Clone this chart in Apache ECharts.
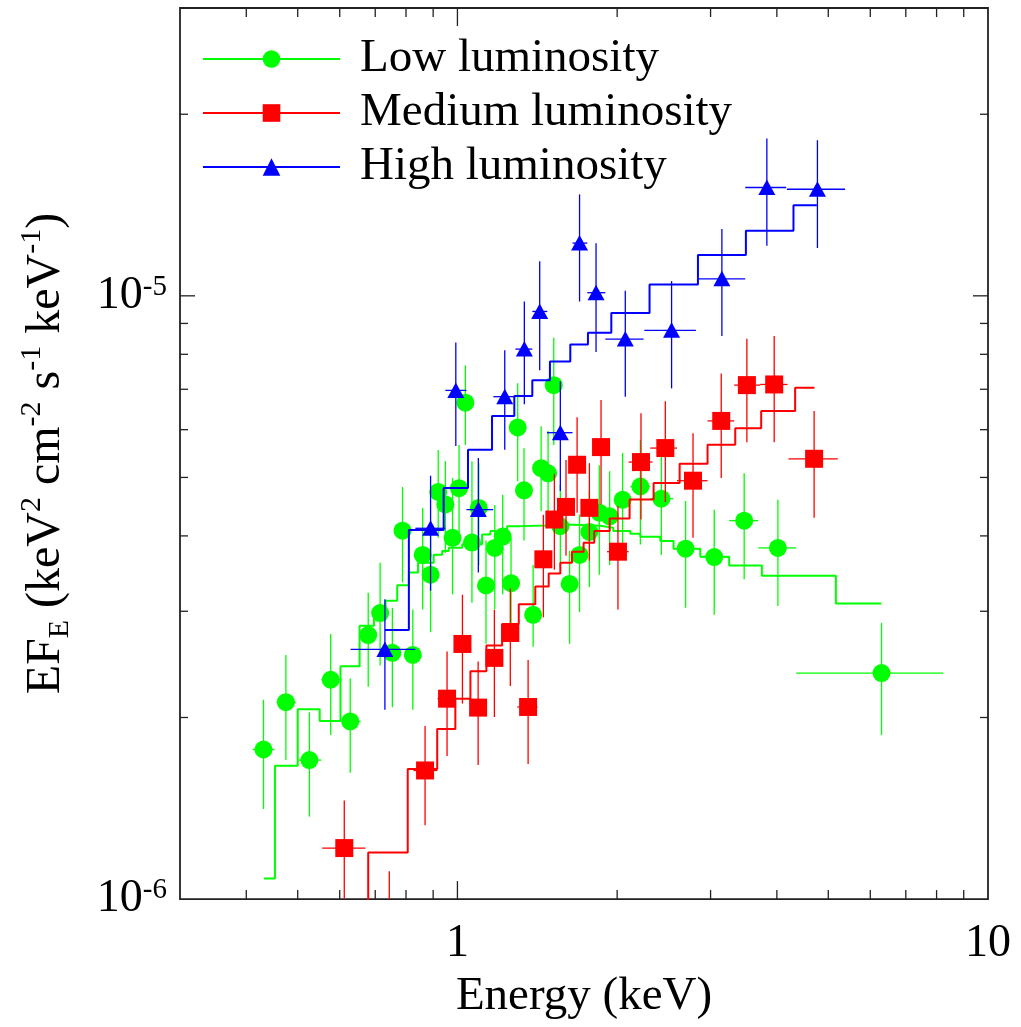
<!DOCTYPE html>
<html>
<head>
<meta charset="utf-8">
<script src="https://cdn.jsdelivr.net/npm/echarts@6/dist/echarts.min.js"></script>
<style>html,body{margin:0;padding:0;background:#fff}#chart{width:1021px;height:1027px}</style>
</head>
<body>
<div id="chart"></div>
<script>
// ---------------- DATA ----------------
// Low luminosity (green) data points
const lowE   = [0.431,0.475,0.526,0.577,0.628,0.679,0.715,0.754,0.788,0.824,0.860,0.890,0.920,0.949,0.979,1.007,1.035,1.065,1.097,1.132,1.176,1.217,1.262,1.299,1.335,1.389,1.438,1.482,1.519,1.563,1.627,1.699,1.773,1.851,1.936,2.048,2.212,2.423,2.692,3.048,3.471,4.018,6.30];
const lowF   = [1.77e-6,2.12e-6,1.70e-6,2.31e-6,1.97e-6,2.74e-6,2.98e-6,2.56e-6,4.08e-6,2.54e-6,3.72e-6,3.45e-6,4.73e-6,4.51e-6,3.97e-6,4.80e-6,6.65e-6,3.90e-6,4.45e-6,3.31e-6,3.82e-6,3.99e-6,3.34e-6,6.05e-6,4.76e-6,2.96e-6,5.18e-6,5.08e-6,7.11e-6,4.15e-6,3.33e-6,3.72e-6,4.06e-6,4.37e-6,4.31e-6,4.59e-6,4.83e-6,4.61e-6,3.81e-6,3.69e-6,4.24e-6,3.82e-6,2.37e-6];
const lowFlo = [1.41e-6,1.70e-6,1.37e-6,1.87e-6,1.62e-6,2.25e-6,2.44e-6,2.08e-6,3.35e-6,2.06e-6,3.02e-6,2.77e-6,3.97e-6,3.75e-6,3.20e-6,3.97e-6,5.66e-6,3.10e-6,3.58e-6,2.65e-6,3.02e-6,3.20e-6,2.79e-6,4.93e-6,3.93e-6,2.62e-6,4.40e-6,4.29e-6,5.66e-6,3.54e-6,2.65e-6,2.99e-6,3.29e-6,3.45e-6,3.58e-6,3.68e-6,3.87e-6,3.72e-6,3.04e-6,2.96e-6,3.39e-6,3.06e-6,1.87e-6];
const lowFhi = [2.14e-6,2.54e-6,2.04e-6,2.75e-6,2.32e-6,3.22e-6,3.61e-6,3.04e-6,4.82e-6,3.02e-6,4.45e-6,4.20e-6,5.55e-6,5.32e-6,4.99e-6,5.66e-6,7.67e-6,5.32e-6,5.28e-6,3.93e-6,4.50e-6,4.68e-6,3.97e-6,7.16e-6,5.59e-6,3.58e-6,6.08e-6,5.97e-6,8.52e-6,4.86e-6,3.78e-6,4.34e-6,4.75e-6,5.24e-6,5.12e-6,5.49e-6,5.77e-6,5.49e-6,4.57e-6,4.42e-6,5.08e-6,4.59e-6,2.87e-6];
const lowElo = [0.411,0.456,0.499,0.554,0.607,0.657,0.701,0.735,0.768,0.798,0.845,0.874,0.905,0.933,0.962,0.991,1.022,1.049,1.081,1.115,1.154,1.195,1.237,1.280,1.314,1.360,1.415,1.458,1.503,1.536,1.597,1.661,1.734,1.811,1.892,1.984,2.118,2.309,2.552,2.869,3.252,3.689,4.349];
const lowEhi = [0.452,0.496,0.554,0.605,0.657,0.701,0.735,0.774,0.809,0.852,0.878,0.905,0.933,0.962,0.991,1.022,1.049,1.081,1.115,1.154,1.195,1.237,1.280,1.314,1.360,1.415,1.458,1.503,1.536,1.597,1.661,1.734,1.811,1.892,1.984,2.118,2.309,2.552,2.869,3.252,3.689,4.349,8.229];
// Low luminosity model (histogram: bin starts + final edge)
const lowModelE = [0.432,0.453,0.500,0.550,0.602,0.654,0.696,0.732,0.770,0.810,0.843,0.902,0.936,0.963,1.021,1.113,1.154,1.205,1.241,1.314,1.471,1.605,1.859,1.967,2.118,2.212,2.412,2.555,2.869,3.252,3.748,5.167,6.297];
const lowModelF = [1.082e-6,1.664e-6,2.064e-6,1.974e-6,2.433e-6,2.839e-6,2.949e-6,3.123e-6,3.313e-6,3.477e-6,3.612e-6,3.724e-6,3.776e-6,3.824e-6,3.873e-6,4.022e-6,4.074e-6,4.099e-6,4.152e-6,4.162e-6,4.178e-6,4.157e-6,4.126e-6,4.074e-6,4.033e-6,3.988e-6,3.923e-6,3.810e-6,3.695e-6,3.574e-6,3.434e-6,3.090e-6,3.090e-6];

// Medium luminosity (red) data points
const medE   = [0.612,0.744,0.869,0.956,1.022,1.094,1.174,1.258,1.359,1.452,1.523,1.602,1.681,1.773,1.865,2.007,2.218,2.465,2.780,3.142,3.512,3.954,4.702];
const medF   = [1.215e-6,0.821e-6,1.634e-6,2.149e-6,2.648e-6,2.077e-6,2.511e-6,2.761e-6,2.082e-6,3.658e-6,4.258e-6,4.468e-6,5.248e-6,4.452e-6,5.614e-6,3.766e-6,5.302e-6,5.593e-6,4.938e-6,6.204e-6,7.112e-6,7.130e-6,5.369e-6];
const medFlo = [0.902e-6,0.600e-6,1.325e-6,1.726e-6,2.109e-6,1.668e-6,2.004e-6,2.255e-6,1.675e-6,2.931e-6,3.516e-6,3.709e-6,4.368e-6,3.640e-6,4.508e-6,3.021e-6,4.258e-6,4.553e-6,3.972e-6,4.989e-6,5.721e-6,5.721e-6,4.285e-6];
const medFhi = [1.457e-6,1.112e-6,1.937e-6,2.573e-6,3.195e-6,2.477e-6,3.017e-6,3.272e-6,2.492e-6,4.335e-6,5.065e-6,5.342e-6,6.291e-6,5.280e-6,6.718e-6,4.485e-6,6.387e-6,6.685e-6,5.921e-6,7.436e-6,8.492e-6,8.581e-6,6.443e-6];
const medElo = [0.556,0.744,0.826,0.917,0.991,1.058,1.134,1.215,1.297,1.402,1.490,1.563,1.640,1.727,1.819,1.914,2.102,2.309,2.593,2.961,3.324,3.721,4.207];
const medEhi = [0.671,0.744,0.917,0.991,1.058,1.134,1.215,1.303,1.415,1.490,1.563,1.640,1.727,1.819,1.917,2.102,2.332,2.593,2.961,3.324,3.721,4.188,5.212];
// Medium luminosity model
const medModelE = [0.615,0.679,0.806,0.916,0.991,1.058,1.134,1.214,1.305,1.402,1.486,1.563,1.644,1.729,1.811,1.936,2.111,2.343,2.623,2.961,3.339,3.737,4.330,4.709];
const medModelF = [0.80e-6,1.195e-6,1.643e-6,1.915e-6,2.149e-6,2.387e-6,2.632e-6,2.857e-6,3.082e-6,3.297e-6,3.464e-6,3.612e-6,3.766e-6,3.897e-6,4.074e-6,4.274e-6,4.595e-6,4.896e-6,5.268e-6,5.662e-6,6.034e-6,6.443e-6,7.042e-6,7.042e-6];

// High luminosity (blue) data points
const highE   = [0.730,0.890,0.993,1.095,1.228,1.337,1.429,1.563,1.699,1.825,2.072,2.533,3.151,3.830,4.770];
const highF   = [2.593e-6,4.118e-6,6.970e-6,4.422e-6,6.805e-6,8.160e-6,9.421e-6,5.931e-6,1.223e-5,1.012e-5,8.477e-6,8.765e-6,1.067e-5,1.512e-5,1.502e-5];
const highFlo = [2.061e-6,3.244e-6,5.635e-6,3.477e-6,5.556e-6,6.609e-6,7.530e-6,4.749e-6,9.786e-6,8.074e-6,6.805e-6,7.024e-6,8.581e-6,1.211e-5,1.200e-5];
const highFhi = [3.142e-6,5.033e-6,8.365e-6,5.383e-6,8.124e-6,9.786e-6,1.141e-5,7.213e-6,1.473e-5,1.222e-5,1.020e-5,1.058e-5,1.290e-5,1.823e-5,1.811e-5];
const highElo = [0.629,0.833,0.949,1.040,1.169,1.286,1.384,1.475,1.648,1.757,1.900,2.250,2.828,3.487,4.178];
const highEhi = [0.833,0.949,1.040,1.168,1.286,1.384,1.477,1.648,1.757,1.900,2.243,2.815,3.487,4.165,5.379];
// High luminosity model
const highModelE = [0.730,0.810,0.942,1.047,1.162,1.280,1.384,1.494,1.632,1.762,1.950,2.302,2.840,3.497,4.299,4.758];
const highModelF = [2.793e-6,4.090e-6,4.803e-6,5.556e-6,6.322e-6,6.822e-6,7.248e-6,7.782e-6,8.301e-6,8.688e-6,9.367e-6,1.044e-5,1.169e-5,1.282e-5,1.413e-5,1.413e-5];

// Axis ranges and ticks
const X_MIN = 0.3, X_MAX = 10;
const Y_MIN = 1e-6, Y_MAX = 3e-5;
const xMinorTicks = [0.4,0.5,0.6,0.7,0.8,0.9,2,3,4,5,6,7,8,9];
const xMajorTicks = [1];
const yMinorTicks = [2e-6,3e-6,4e-6,5e-6,6e-6,7e-6,8e-6,9e-6,2e-5];
const yMajorTicks = [1e-5];

const names = ['Low luminosity','Medium luminosity','High luminosity'];
const colors = ['#00ff00','#ff0000','#0000ff'];

// ---------------- CHART ----------------
const FONT = '"Liberation Serif", "Times New Roman", Times, serif';
const zip = (a,b) => a.map((v,i)=>[v,b[i]]);
const rows = (E,F,Elo,Ehi,Flo,Fhi) => E.map((e,i)=>[e,F[i],Elo[i],Ehi[i],Flo[i],Fhi[i]]);
const isDecade = v => { const l = Math.log10(v); return Math.abs(l - Math.round(l)) < 1e-6; };

function dataRender(shape) {
  return function (params, api) {
    const cs = params.coordSys;
    const top = cs.y, bot = cs.y + cs.height;
    const clampY = y => Math.min(Math.max(y, top), bot);
    const e = api.value(0), f = api.value(1);
    const c = api.coord([e, f]);
    const l = api.coord([api.value(2), f]);
    const r = api.coord([api.value(3), f]);
    const b = api.coord([e, api.value(4)]);
    const t = api.coord([e, api.value(5)]);
    const color = api.visual('color');
    const ch = [];
    const inside = c[1] >= top && c[1] <= bot;
    if (inside) ch.push({type:'line', shape:{x1:l[0], y1:c[1], x2:r[0], y2:c[1]}, style:{stroke:color, lineWidth:1.3}});
    const y1 = clampY(t[1]), y2 = clampY(b[1]);
    if (y2 > y1) ch.push({type:'line', shape:{x1:c[0], y1:y1, x2:c[0], y2:y2}, style:{stroke:color, lineWidth:1.3}});
    if (inside) {
      if (shape === 'circle') ch.push({type:'circle', shape:{cx:c[0], cy:c[1], r:9}, style:{fill:color}});
      else if (shape === 'rect') ch.push({type:'rect', shape:{x:c[0]-9, y:c[1]-9, width:18, height:18}, style:{fill:color}});
      else ch.push({type:'polygon', shape:{points:[[c[0], c[1]-8],[c[0]+8.5, c[1]+7.5],[c[0]-8.5, c[1]+7.5]]}, style:{fill:color}});
    }
    return {type:'group', children: ch};
  };
}
function xTickRender(len) {
  return function (params, api) {
    const cs = params.coordSys;
    const x = api.coord([api.value(0), api.value(1)])[0];
    const st = {stroke:'#222', lineWidth:1.3};
    return {type:'group', children:[
      {type:'line', shape:{x1:x, y1:cs.y+cs.height, x2:x, y2:cs.y+cs.height-len}, style:st},
      {type:'line', shape:{x1:x, y1:cs.y, x2:x, y2:cs.y+len}, style:st}
    ]};
  };
}
function yTickRender(len) {
  return function (params, api) {
    const cs = params.coordSys;
    const y = api.coord([api.value(0), api.value(1)])[1];
    const st = {stroke:'#222', lineWidth:1.3};
    return {type:'group', children:[
      {type:'line', shape:{x1:cs.x, y1:y, x2:cs.x+len, y2:y}, style:st},
      {type:'line', shape:{x1:cs.x+cs.width, y1:y, x2:cs.x+cs.width-len, y2:y}, style:st}
    ]};
  };
}

const modelSets = [[lowModelE, lowModelF],[medModelE, medModelF],[highModelE, highModelF]];
const dataSets = [
  rows(lowE, lowF, lowElo, lowEhi, lowFlo, lowFhi),
  rows(medE, medF, medElo, medEhi, medFlo, medFhi),
  rows(highE, highF, highElo, highEhi, highFlo, highFhi)
];
const symbols = ['circle','rect','triangle'];

const series = [];
for (let k = 0; k < 3; k++) {
  series.push({
    type:'line', name:names[k], data: zip(modelSets[k][0], modelSets[k][1]),
    step:'end', symbol:symbols[k], showSymbol:false, clip:true, silent:true,
    lineStyle:{color:colors[k], width:2}, itemStyle:{color:colors[k]},
    z: 2 + 2*k, animation:false
  });
  series.push({
    type:'custom', name:names[k] + ' data', data: dataSets[k],
    encode:{x:[0,2,3], y:[1,4,5]}, renderItem: dataRender(symbols[k]),
    itemStyle:{color:colors[k]}, clip:true, silent:true, z: 3 + 2*k
  });
}
series.push({type:'custom', data: xMinorTicks.map(v=>[v, Y_MIN]), encode:{x:0,y:1}, renderItem:xTickRender(9), silent:true, z:20});
series.push({type:'custom', data: xMajorTicks.map(v=>[v, Y_MIN]), encode:{x:0,y:1}, renderItem:xTickRender(18), silent:true, z:20});
series.push({type:'custom', data: yMinorTicks.map(v=>[X_MIN, v]), encode:{x:0,y:1}, renderItem:yTickRender(8), silent:true, z:20});
series.push({type:'custom', data: yMajorTicks.map(v=>[X_MIN, v]), encode:{x:0,y:1}, renderItem:yTickRender(15), silent:true, z:20});

const chart = echarts.init(document.getElementById('chart'), null, {renderer:'canvas'});
chart.setOption({
  animation:false,
  backgroundColor:'#ffffff',
  grid:{left:180, right:33, top:8, bottom:124, show:true, borderColor:'#222', borderWidth:1.8, backgroundColor:'transparent', containLabel:false},
  legend:{
    data:names, orient:'vertical', left:202, top:32, padding:0, itemGap:0,
    itemWidth:137, itemHeight:22, selectedMode:false,
    textStyle:{fontFamily:FONT, fontSize:47, color:'#000', lineHeight:54, padding:[0,0,0,15]}
  },
  xAxis:{
    type:'log', logBase:10, min:X_MIN, max:X_MAX,
    axisLine:{show:false}, axisTick:{show:false}, splitLine:{show:false}, minorTick:{show:false},
    axisLabel:{fontFamily:FONT, fontSize:46, color:'#000', margin:22, showMaxLabel:true,
      formatter: v => isDecade(v) ? String(Math.round(v)) : ''},
    name:'Energy (keV)', nameLocation:'middle', nameGap:72,
    nameTextStyle:{fontFamily:FONT, fontSize:47, color:'#000', lineHeight:50}
  },
  yAxis:{
    type:'log', logBase:10, min:Y_MIN, max:Y_MAX,
    axisLine:{show:false}, axisTick:{show:false}, splitLine:{show:false}, minorTick:{show:false},
    axisLabel:{margin:13, showMaxLabel:true,
      formatter: v => isDecade(v) ? '{b|10}{s|' + Math.round(Math.log10(v)) + '}' : '',
      rich:{
        b:{fontFamily:FONT, fontSize:46, color:'#000', lineHeight:46},
        s:{fontFamily:FONT, fontSize:29, color:'#000', lineHeight:29, verticalAlign:'top'}
      }},
    name:'{m|EF}{sb|E}{m| (keV}{sp|2}{m| cm}{sp|-2}{m| s}{sp|-1}{m| keV}{sp|-1}{m|)}',
    nameLocation:'middle', nameRotate:90, nameGap:105,
    nameTextStyle:{fontFamily:FONT, fontSize:46, color:'#000',
      rich:{
        m:{fontFamily:FONT, fontSize:48, color:'#000', lineHeight:58},
        sb:{fontFamily:FONT, fontSize:30, color:'#000', lineHeight:30, verticalAlign:'bottom'},
        sp:{fontFamily:FONT, fontSize:30, color:'#000', lineHeight:30, verticalAlign:'top'}
      }}
  },
  series: series
});
</script>
</body>
</html>
